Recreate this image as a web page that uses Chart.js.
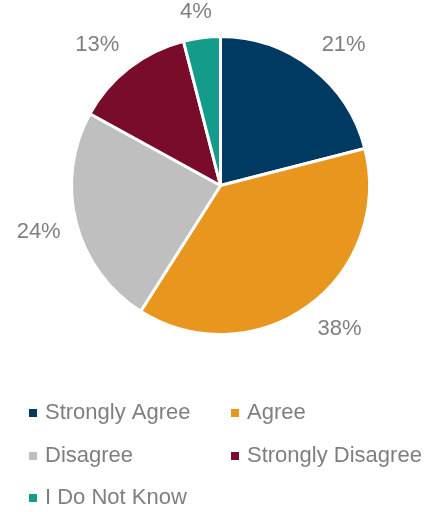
<!DOCTYPE html>
<html>
<head>
<meta charset="utf-8">
<script src="https://cdn.jsdelivr.net/npm/chart.js@4"></script>
<style>
  html, body { margin: 0; padding: 0; background: #ffffff; }
  #wrap { width: 432px; height: 512px; }
</style>
</head>
<body>
<div id="wrap"><canvas id="pie" width="432" height="512"></canvas></div>
<script>
// chart data
const categories = ['Strongly Agree', 'Agree', 'Disagree', 'Strongly Disagree', 'I Do Not Know'];
const shares = [21, 38, 24, 13, 4];
const sliceColors = ['#003A63', '#E8961E', '#BFBFBF', '#7A0C2B', '#159B8A'];

const textColor = '#7F7F7F';
const fontFamily = '"Liberation Sans", Arial, sans-serif';

function clamp1(v) {
    return Math.max(-1, Math.min(1, v));
}

// percent labels just outside each slice (box edge touches the ring)
const outsideLabels = {
    id: 'outsideLabels',
    afterDatasetsDraw(chart) {
        const ctx = chart.ctx;
        const arcs = chart.getDatasetMeta(0).data;
        ctx.save();
        ctx.font = '22px ' + fontFamily;
        ctx.fillStyle = textColor;
        ctx.textAlign = 'center';
        ctx.textBaseline = 'middle';
        arcs.forEach((arc, i) => {
            const mid = (arc.startAngle + arc.endAngle) / 2;
            const dx = Math.cos(mid), dy = Math.sin(mid);
            const txt = shares[i] + '%';
            const w = ctx.measureText(txt).width;
            const r = arc.outerRadius + 16;
            const x = arc.x + dx * r + clamp1(dx * 2) * w / 2;
            const y = arc.y + dy * r + clamp1(dy * 2) * 10;
            ctx.fillText(txt, x, y);
        });
        ctx.restore();
    }
};

// legend drawn as a two column grid
const gridLegend = {
    id: 'gridLegend',
    afterDraw(chart) {
        const ctx = chart.ctx;
        const cols = [29, 231];
        const rows = [413, 456, 498];
        ctx.save();
        ctx.font = '22px ' + fontFamily;
        ctx.textBaseline = 'middle';
        categories.forEach((name, i) => {
            const x = cols[i % 2];
            const y = rows[Math.floor(i / 2)];
            ctx.fillStyle = sliceColors[i];
            ctx.fillRect(x, y - 4, 8, 8);
            ctx.fillStyle = textColor;
            ctx.fillText(name, x + 16, y);
        });
        ctx.restore();
    }
};

new Chart(document.getElementById('pie'), {
    type: 'pie',
    data: {
        labels: categories,
        datasets: [{
            data: shares,
            backgroundColor: sliceColors,
            borderColor: '#ffffff',
            borderWidth: 3
        }]
    },
    options: {
        responsive: false,
        animation: false,
        layout: {
            padding: { left: 70, right: 61, top: 35, bottom: 176 }
        },
        plugins: {
            legend: { display: false },
            tooltip: { enabled: false }
        }
    },
    plugins: [outsideLabels, gridLegend]
});
</script>
</body>
</html>
